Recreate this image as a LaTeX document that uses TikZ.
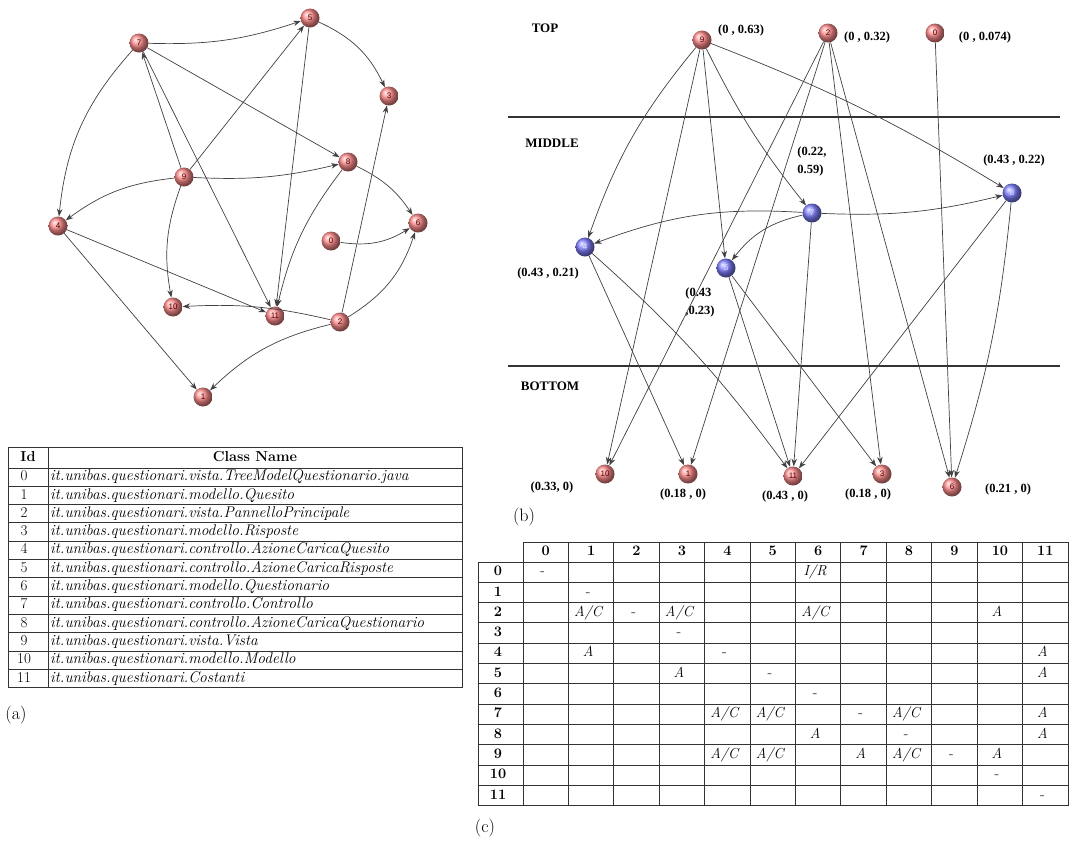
\documentclass[tikz,border=0pt]{standalone}
\usepackage{fontspec}
\newfontfamily\labfont{Liberation Serif}
\newfontfamily\numfont{Liberation Sans}
\usetikzlibrary{arrows.meta}

\begin{document}
\begin{tikzpicture}[
    x=1pt, y=1pt,
    rnode/.style={
        circle,
        minimum size=19pt,
        inner sep=0pt,
        ball color=red!45,
        text=red!30!black,
        font=\numfont\fontsize{8}{8}\selectfont
    },
    bnode/.style={
        circle,
        minimum size=19pt,
        inner sep=0pt,
        ball color=blue!50,
        text=blue!10,
        font=\numfont\fontsize{8}{8}\selectfont
    },
    arrow/.style={-{Stealth[length=7.5pt, width=5.5pt]}, line width=0.7pt, black!75},
    level/.style={font=\labfont\bfseries\fontsize{13}{13}\selectfont},
    coord/.style={font=\labfont\bfseries\fontsize{12.5}{18}\selectfont, align=left, inner sep=1pt},
    caption/.style={font=\fontsize{18}{18}\selectfont},
    tline/.style={line width=1pt, black!80},
    thead/.style={font=\bfseries\fontsize{14.5}{14.5}\selectfont, text height=10pt, text depth=3pt, inner sep=0pt},
    tcell/.style={font=\fontsize{15}{15}\selectfont, text height=10pt, text depth=3pt, inner sep=0pt},
    mcell/.style={font=\itshape\fontsize{14.5}{14.5}\selectfont, text height=10pt, text depth=3pt, inner sep=0pt, xshift=-3pt}
]
\useasboundingbox (0,-847) rectangle (1070,0);

% --- Grafo (a) ---
\node[rnode] (a5)  at (310,-18)  {5};
\node[rnode] (a7)  at (139,-43)  {7};
\node[rnode] (a3)  at (389,-96)  {3};
\node[rnode] (a8)  at (348,-162) {8};
\node[rnode] (a9)  at (184,-177) {9};
\node[rnode] (a4)  at (58,-226)  {4};
\node[rnode] (a6)  at (418,-223) {6};
\node[rnode] (a0)  at (331,-241) {0};
\node[rnode] (a10) at (173,-307) {10};
\node[rnode] (a11) at (275,-316) {11};
\node[rnode] (a2)  at (340,-322) {2};
\node[rnode] (a1)  at (203,-397) {1};

\draw[arrow] (a7) to[bend right=10] (a5);
\draw[arrow] (a7) to[bend right=18] (a4);
\draw[arrow] (a7) -- (a8);
\draw[arrow] (a7) -- (a11);
\draw[arrow] (a9) -- (a7);
\draw[arrow] (a9) -- (a5);
\draw[arrow] (a9) to[bend right=8] (a8);
\draw[arrow] (a9) to[bend right=15] (a4);
\draw[arrow] (a9) to[bend right=15] (a10);
\draw[arrow] (a5) to[bend left=20] (a3);
\draw[arrow] (a5) -- (a11);
\draw[arrow] (a8) to[bend left=15] (a6);
\draw[arrow] (a8) to[bend right=12] (a11);
\draw[arrow] (a0) to[bend right=20] (a6);
\draw[arrow] (a2) -- (a3);
\draw[arrow] (a2) to[bend right=20] (a6);
\draw[arrow] (a2) to[bend right=15] (a1);
\draw[arrow] (a2) to[bend right=8] (a10);
\draw[arrow] (a4) -- (a1);
\draw[arrow] (a4) -- (a11);

% --- Tabella (a) ---
\draw[tline] (8,-447) rectangle (462,-687.6);
\draw[tline] (48,-447) -- (48,-687.6);
\foreach \k in {0,...,11}
    \draw[tline] (8,-468-18.3*\k) -- (462,-468-18.3*\k);
\node[thead] (hid)  at (28,-457.5)  {Id};
\node[thead] (hcls) at (255,-457.5) {Class Name};
\foreach \i/\cls in {0/vista.TreeModelQuestionario.java, 1/modello.Quesito,
        2/vista.PannelloPrincipale, 3/modello.Risposte,
        4/controllo.AzioneCaricaQuesito, 5/controllo.AzioneCaricaRisposte,
        6/modello.Questionario, 7/controllo.Controllo,
        8/controllo.AzioneCaricaQuestionario, 9/vista.Vista,
        10/modello.Modello, 11/Costanti} {
    \node[tcell] (id\i) at (24,-477.2-18.3*\i) {\i};
    \node[tcell, anchor=west, font=\itshape\fontsize{15.5}{15.5}\selectfont] (cls\i)
        at (50,-477.2-18.3*\i) {it.unibas.questionari.\cls};
}
\node[caption] (capa) at (16,-715) {(a)};

% --- Grafo (b) ---
\draw[line width=1.3pt, black!80] (508,-117) -- (1060,-117);
\draw[line width=1.3pt, black!80] (508,-366) -- (1060,-366);
\node[level] (top) at (545,-28)  {TOP};
\node[level] (mid) at (552,-143) {MIDDLE};
\node[level] (bot) at (550,-386) {BOTTOM};

\node[rnode] (b9)  at (702,-40)  {9};
\node[rnode] (b2)  at (828,-33)  {2};
\node[rnode] (b0)  at (935,-33)  {0};
\node[bnode] (b8)  at (1012,-193) {8};
\node[bnode] (b7)  at (812,-213) {7};
\node[bnode] (b4)  at (585,-247) {4};
\node[bnode] (b5)  at (726,-268) {5};
\node[rnode] (b10) at (605,-474) {10};
\node[rnode] (b1)  at (688,-474) {1};
\node[rnode] (b11) at (793,-476) {11};
\node[rnode] (b3)  at (882,-474) {3};
\node[rnode] (b6)  at (952,-487) {6};

\node[coord] (l9)  at (741,-30)  {(0 , 0.63)};
\node[coord] (l2)  at (867,-37)  {(0 , 0.32)};
\node[coord] (l0)  at (985,-37)  {(0 , 0.074)};
\node[coord] (l7)  at (812,-161) {(0.22,\\0.59)};
\node[coord] (l8)  at (1014,-160) {(0.43 , 0.22)};
\node[coord] (l4)  at (548,-273) {(0.43 , 0.21)};
\node[coord] (l5)  at (700,-302) {(0.43\\,0.23)};
\node[coord] (l10) at (552,-487) {(0.33, 0)};
\node[coord] (l1)  at (683,-494) {(0.18 , 0)};
\node[coord] (l11) at (785,-496) {(0.43 , 0)};
\node[coord] (l3)  at (868,-494) {(0.18 , 0)};
\node[coord] (l6)  at (1008,-489) {(0.21 , 0)};

\draw[arrow] (b9) to[bend right=10] (b4);
\draw[arrow] (b9) -- (b10);
\draw[arrow] (b9) -- (b5);
\draw[arrow] (b9) to[bend right=6] (b7);
\draw[arrow] (b9) to[bend left=5] (b8);
\draw[arrow] (b2) -- (b10);
\draw[arrow] (b2) -- (b1);
\draw[arrow] (b2) -- (b3);
\draw[arrow] (b2) -- (b6);
\draw[arrow] (b0) -- (b6);
\draw[arrow] (b7) to[bend right=12] (b4);
\draw[arrow] (b7) to[bend right=20] (b5);
\draw[arrow] (b7) to[bend right=8] (b8);
\draw[arrow] (b7) -- (b11);
\draw[arrow] (b8) -- (b11);
\draw[arrow] (b8) to[bend left=6] (b6);
\draw[arrow] (b4) -- (b1);
\draw[arrow] (b4) to[bend left=6] (b11);
\draw[arrow] (b5) -- (b11);
\draw[arrow] (b5) -- (b3);
\node[caption] (capb) at (524,-517) {(b)};

% --- Matrice (c) ---
\draw[tline] (523,-542) -- (1068,-542);
\foreach \k in {0,...,12}
    \draw[tline] (478,-562-20.3*\k) -- (1068,-562-20.3*\k);
\draw[tline] (478,-562) -- (478,-805.6);
\foreach \k in {0,...,12}
    \draw[tline] (523+45.42*\k,-542) -- (523+45.42*\k,-805.6);
\foreach \c in {0,...,11}
    \node[thead] (ch\c) at (545.7+45.42*\c,-552) {\c};
\foreach \r in {0,...,11} {
    \node[thead] (rh\r) at (498,-572.2-20.3*\r) {\r};
    \node[tcell, xshift=-3pt] (dg\r) at (545.7+45.42*\r,-572.2-20.3*\r) {-};
}
\foreach \r/\c/\t in {0/6/{I/R}, 2/1/{A/C}, 2/3/{A/C}, 2/6/{A/C}, 2/10/A,
        4/1/A, 4/11/A, 5/3/A, 5/11/A,
        7/4/{A/C}, 7/5/{A/C}, 7/8/{A/C}, 7/11/A,
        8/6/A, 8/11/A,
        9/4/{A/C}, 9/5/{A/C}, 9/7/A, 9/8/{A/C}, 9/10/A}
    \node[mcell] (m\r-\c) at (545.7+45.42*\c,-572.2-20.3*\r) {\t};
\node[caption] (capc) at (485,-828) {(c)};

\end{tikzpicture}
\end{document}
